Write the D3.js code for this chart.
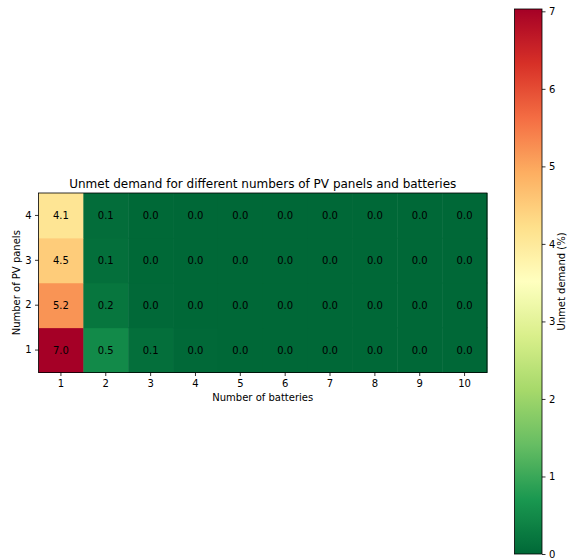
<!DOCTYPE html>
<html><head><meta charset="utf-8">
<script src="https://cdn.jsdelivr.net/npm/d3@7"></script>
<style>body{margin:0;background:#fff}svg{font-family:"DejaVu Sans",sans-serif}</style>
</head><body><svg id="c" width="567" height="559"></svg>
<script>
const batteries = [1,2,3,4,5,6,7,8,9,10];
const pvPanels = [1,2,3,4];
// values[pv index][battery index]
const pv1 = [7.03,0.50,0.10,0.02,0.0,0.0,0.0,0.0,0.0,0.0];
const pv2 = [5.20,0.20,0.02,0.0,0.0,0.0,0.0,0.0,0.0,0.0];
const pv3 = [4.50,0.10,0.01,0.0,0.0,0.0,0.0,0.0,0.0,0.0];
const pv4 = [4.10,0.08,0.01,0.0,0.0,0.0,0.0,0.0,0.0,0.0];
const values = [pv1,pv2,pv3,pv4];
const cbarTicks = [0,1,2,3,4,5,6,7];
const title = "Unmet demand for different numbers of PV panels and batteries";

const rdylgn = ["#a50026","#d73027","#f46d43","#fdae61","#fee08b","#ffffbf","#d9ef8b","#a6d96a","#66bd63","#1a9850","#006837"];
const vmax = d3.max(values.flat());
const stops = rdylgn.slice().reverse();
const color = d3.scaleLinear()
  .domain(stops.map((_,i)=>i/(stops.length-1)*vmax))
  .range(stops).interpolate(d3.interpolateRgb).clamp(true);

const svg = d3.select("#c");
const L=38.5, R=487, T=193, B=372.5;
const x = d3.scaleBand().domain(batteries).range([L,R]).padding(0);
const y = d3.scaleBand().domain(pvPanels.slice().reverse()).range([T,B]).padding(0);

const cells = [];
pvPanels.forEach((p,i)=>batteries.forEach((b,j)=>cells.push({p,b,v:values[i][j]})));

svg.append("g").selectAll("rect").data(cells).join("rect")
  .attr("x",d=>x(d.b)).attr("y",d=>y(d.p))
  .attr("width",x.bandwidth()+0.5).attr("height",y.bandwidth()+0.5)
  .attr("fill",d=>color(d.v));
svg.append("g").selectAll("text").data(cells).join("text")
  .attr("x",d=>x(d.b)+x.bandwidth()/2).attr("y",d=>y(d.p)+y.bandwidth()/2)
  .attr("text-anchor","middle").attr("dominant-baseline","central")
  .attr("font-size",10).attr("fill","#000")
  .text(d=>d.v.toFixed(1));
svg.append("rect").attr("x",L).attr("y",T).attr("width",R-L).attr("height",B-T)
  .attr("fill","none").attr("stroke","#000").attr("stroke-width",0.8);

const xAxis = svg.append("g").attr("transform",`translate(0,${B})`)
  .call(d3.axisBottom(x).tickSize(3.5).tickPadding(3.5));
const yAxis = svg.append("g").attr("transform",`translate(${L},0)`)
  .call(d3.axisLeft(y).tickSize(3.5).tickPadding(3.5));
[xAxis,yAxis].forEach(a=>{
  a.select(".domain").remove();
  a.selectAll("line").attr("stroke","#000").attr("stroke-width",0.8);
  a.selectAll("text").attr("font-size",10).attr("fill","#000").attr("font-family","DejaVu Sans");
});

svg.append("text").attr("x",(L+R)/2).attr("y",188).attr("text-anchor","middle")
  .attr("font-size",12).text(title);
svg.append("text").attr("x",(L+R)/2).attr("y",401).attr("text-anchor","middle")
  .attr("font-size",10).text("Number of batteries");
svg.append("text").attr("transform",`translate(20,${(T+B)/2}) rotate(-90)`).attr("text-anchor","middle")
  .attr("font-size",10).text("Number of PV panels");

// colorbar
const cL=514.5, cR=542, cT=9, cB=554;
const cy = d3.scaleLinear().domain([0,vmax]).range([cB,cT]);
const defs = svg.append("defs");
const grad = defs.append("linearGradient").attr("id","g").attr("x1",0).attr("y1",1).attr("x2",0).attr("y2",0);
d3.range(0,1.0001,0.02).forEach(t=>grad.append("stop").attr("offset",t).attr("stop-color",color(t*vmax)));
svg.append("rect").attr("x",cL).attr("y",cT).attr("width",cR-cL).attr("height",cB-cT)
  .attr("fill","url(#g)").attr("stroke","#000").attr("stroke-width",0.8);
const cAxis = svg.append("g").attr("transform",`translate(${cR},0)`)
  .call(d3.axisRight(cy).tickValues(cbarTicks).tickFormat(d3.format("d")).tickSize(3.5).tickPadding(3.5));
cAxis.select(".domain").remove();
cAxis.selectAll("line").attr("stroke","#000").attr("stroke-width",0.8);
cAxis.selectAll("text").attr("font-size",10).attr("fill","#000").attr("font-family","DejaVu Sans");
svg.append("text").attr("transform",`translate(565,${(cT+cB)/2}) rotate(-90)`).attr("text-anchor","middle")
  .attr("font-size",10).text("Unmet demand (%)");
</script></body></html>
